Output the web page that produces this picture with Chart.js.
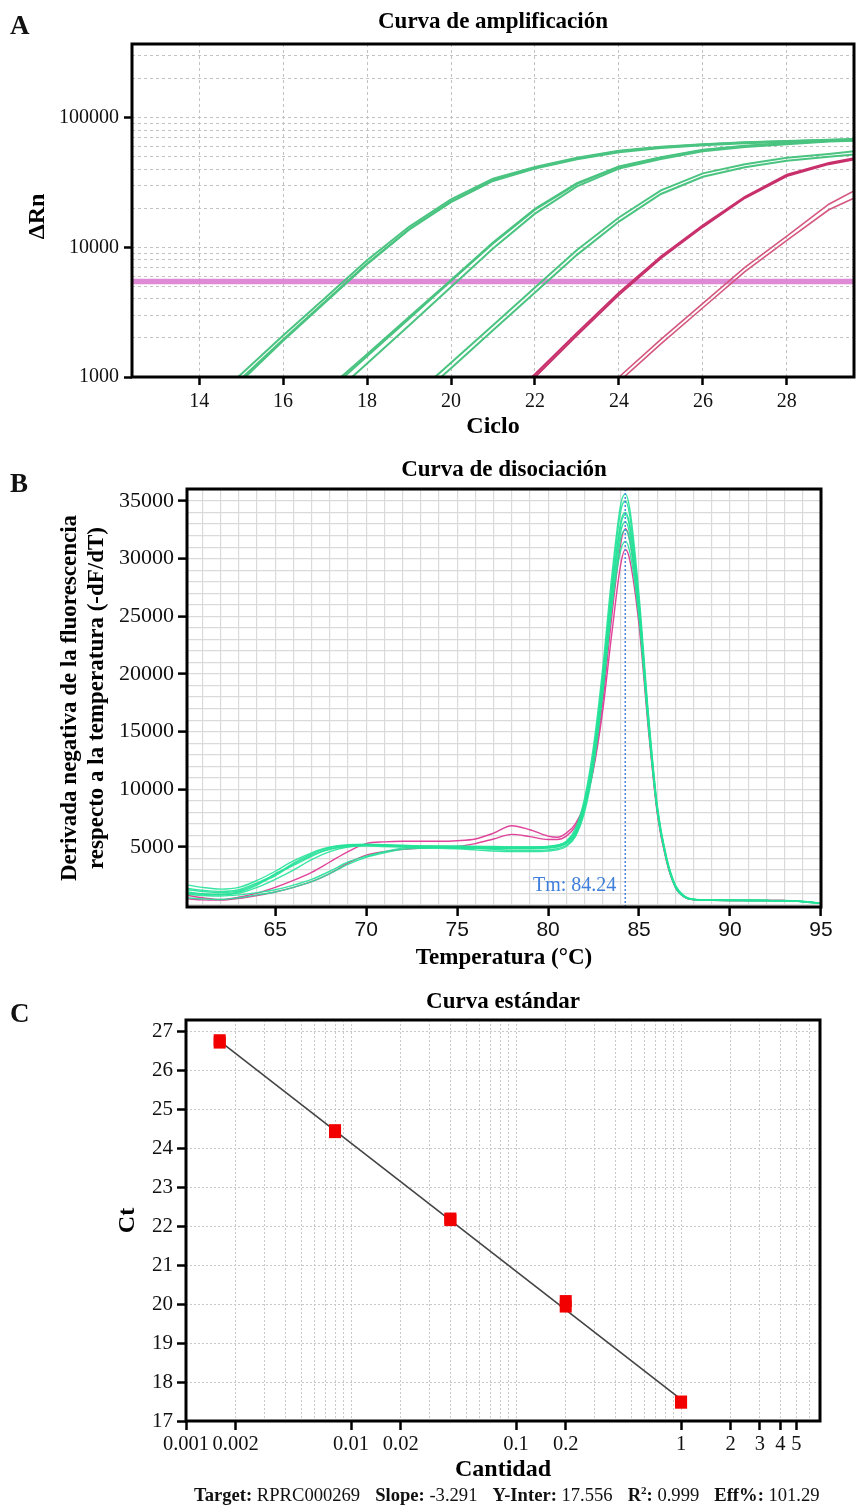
<!DOCTYPE html>
<html>
<head>
<meta charset="utf-8">
<script src="https://cdn.jsdelivr.net/npm/chart.js@4.4.1/dist/chart.umd.min.js"></script>
<style>
  body { margin: 0; background: #fff; }
  #page { position: relative; width: 856px; height: 1506px; font-family: 'Liberation Serif', serif; color: #111; }
  canvas { position: absolute; left: 0; }
  .tag { position: absolute; font-weight: bold; font-size: 27px; line-height: 27px; }
  #stats { position: absolute; left: 194px; top: 1485px; font-size: 18.6px; line-height: 20px; white-space: nowrap; }
  #stats .gap { display: inline-block; width: 15px; }
  #stats sup { font-size: 11px; line-height: 0; }
</style>
</head>
<body>
<div id="page">
  <canvas id="chartA" width="856" height="445" style="top:0"></canvas>
  <canvas id="chartB" width="856" height="535" style="top:450px"></canvas>
  <canvas id="chartC" width="856" height="505" style="top:985px"></canvas>
  <div class="tag" style="left:10px;top:12px">A</div>
  <div class="tag" style="left:10px;top:470px">B</div>
  <div class="tag" style="left:10px;top:1000px">C</div>
  <div id="stats"><b>Target:</b> RPRC000269<span class="gap"></span><b>Slope:</b> -3.291<span class="gap"></span><b>Y-Inter:</b> 17.556<span class="gap"></span><b>R<sup>2</sup>:</b> 0.999<span class="gap"></span><b>Eff%:</b> 101.29</div>
</div>
<script>
const serif = 'Liberation Serif';
const sans = 'Liberation Sans';
Chart.defaults.font.family = serif;
Chart.defaults.color = '#111';

// ---------- A: curva de amplificacion ----------
const cycles = [12, 13, 14, 15, 16, 17, 18, 19, 20, 21, 22, 23, 24, 25, 26, 27, 28, 29, 30];
const grp1a = [null, null, 540, 1050, 2090, 4070, 7940, 14400, 23400, 33900, 41700, 49000, 55600, 59600, 62400, 64600, 66100, 67600, 69200];
const grp1b = [null, null, 500, 970, 1950, 3820, 7500, 13800, 22600, 33000, 41000, 48500, 55000, 59200, 62000, 64300, 65900, 67400, 68900];
const grp1c = [null, null, 470, 930, 1900, 3760, 7420, 13700, 22300, 32500, 40500, 47800, 54000, 58300, 61200, 63500, 65000, 66600, 68000];
const grp2a = [null, null, null, null, 380, 741, 1445, 2818, 5495, 10700, 19500, 30900, 41700, 49000, 56200, 60300, 63100, 66100, 67600];
const grp2b = [null, null, null, null, null, 650, 1270, 2500, 4950, 9800, 18200, 29500, 40500, 48000, 55000, 59500, 62500, 65500, 67000];
const grp2c = [null, null, null, null, 400, 780, 1500, 2900, 5600, 10900, 19800, 31200, 42000, 49500, 56500, 60800, 63800, 66600, 68200];
const grp3a = [null, null, null, null, null, null, null, 661, 1290, 2510, 4900, 9550, 17000, 27500, 37200, 43700, 49000, 52500, 57000];
const grp3b = [null, null, null, null, null, null, null, 600, 1170, 2290, 4480, 8750, 15800, 25800, 35000, 41500, 46500, 50000, 53500];
const grp4a = [null, null, null, null, null, null, null, null, null, 537, 1050, 2190, 4470, 8510, 14800, 24500, 36300, 44700, 51300];
const grp4b = [null, null, null, null, null, null, null, null, null, 510, 1000, 2100, 4300, 8250, 14400, 24000, 35500, 43800, 50300];
const grp5a = [null, null, null, null, null, null, null, null, null, null, null, 520, 1000, 1950, 3700, 7000, 12200, 21500, 32000];
const grp5b = [null, null, null, null, null, null, null, null, null, null, null, 480, 920, 1800, 3420, 6500, 11300, 19500, 27500];
const thresholdA = 5445;
const xTicksA = [14, 16, 18, 20, 22, 24, 26, 28];
const yLabelsA = [1000, 10000, 100000];
const yGridA = [1000, 2000, 3000, 4000, 5000, 6000, 7000, 8000, 9000, 10000, 20000, 30000, 40000, 50000, 60000, 70000, 80000, 90000, 100000, 200000, 300000];

// ---------- B: curva de disociacion ----------
const temps = [60.2, 61, 62, 63, 64, 65, 66, 67, 68, 69, 70, 71, 72, 73, 74, 75, 76, 77, 78, 79, 80, 80.5, 81, 81.5, 82, 82.5, 83, 83.5, 84, 84.25, 84.5, 85, 85.5, 86, 86.5, 87, 87.5, 88, 89, 90, 91, 92, 93, 94, 95];
const melt1 = [1700, 1500, 1350, 1500, 2100, 2900, 3800, 4500, 5000, 5200, 5250, 5200, 5150, 5100, 5100, 5100, 5050, 5050, 5000, 5000, 5050, 5150, 5500, 6600, 9200, 13800, 20500, 28500, 34800, 35600, 34200, 26800, 16800, 8600, 4200, 1700, 750, 480, 420, 400, 390, 380, 360, 300, 150];
const melt2 = [1400, 1250, 1150, 1300, 1900, 2600, 3600, 4400, 4950, 5150, 5200, 5150, 5100, 5050, 5050, 5000, 5000, 4950, 4950, 4950, 5000, 5100, 5400, 6400, 8900, 13300, 19800, 27800, 34200, 35000, 33600, 26200, 16300, 8300, 4000, 1600, 700, 460, 400, 380, 370, 360, 340, 280, 130];
const melt3 = [1100, 950, 900, 1100, 1700, 2700, 3400, 4200, 4850, 5100, 5200, 5150, 5100, 5100, 5050, 5050, 5050, 5000, 5000, 5000, 5050, 5150, 5450, 6300, 8600, 12800, 19000, 26500, 32400, 33200, 32000, 25500, 16000, 8200, 4000, 1550, 680, 450, 400, 380, 370, 360, 340, 270, 120];
const melt4 = [900, 800, 750, 850, 1050, 1300, 1700, 2200, 2900, 3700, 4200, 4600, 4900, 5000, 5000, 4950, 4900, 4800, 4700, 4700, 4750, 4850, 5150, 6000, 8300, 12500, 19000, 27000, 33200, 34000, 32800, 26000, 16500, 8500, 4100, 1600, 700, 460, 400, 380, 370, 360, 340, 270, 120];
const melt5 = [600, 500, 450, 600, 850, 1100, 1500, 2000, 2700, 3500, 4100, 4500, 4800, 4900, 4900, 4850, 4750, 4650, 4600, 4600, 4650, 4750, 5050, 5900, 8000, 12000, 18200, 25800, 31800, 32500, 31400, 25200, 16000, 8300, 4000, 1550, 680, 450, 390, 370, 360, 350, 330, 260, 110];
const melt6 = [1300, 1150, 1050, 1200, 1800, 2500, 3500, 4300, 4800, 5050, 5100, 5050, 5000, 4950, 4950, 4900, 4900, 4850, 4850, 4850, 4900, 5000, 5300, 6100, 8400, 12400, 18500, 25800, 30800, 31500, 30500, 24800, 15700, 8100, 3900, 1500, 660, 440, 390, 370, 360, 350, 330, 260, 110];
const melt7 = [1000, 900, 850, 1000, 1500, 2200, 3000, 3900, 4600, 5000, 5100, 5100, 5050, 5000, 5000, 4950, 4950, 4900, 4900, 4900, 4950, 5050, 5350, 6200, 8700, 13000, 19500, 27200, 33000, 33800, 32600, 25900, 16200, 8300, 4000, 1550, 690, 450, 390, 370, 360, 350, 330, 260, 120];
const meltPink1 = [800, 600, 450, 650, 1000, 1500, 2100, 2800, 3700, 4600, 5300, 5450, 5500, 5500, 5500, 5550, 5700, 6200, 6850, 6500, 5950, 5850, 6200, 7000, 8700, 11800, 16800, 23500, 29600, 30800, 29800, 24200, 15400, 7900, 3800, 1500, 650, 430, 380, 370, 370, 370, 370, null, null];
const meltPink2 = [500, 420, 400, 550, 800, 1100, 1500, 2000, 2700, 3600, 4300, 4600, 4800, 4900, 5000, 5050, 5300, 5700, 6100, 5900, 5650, 5650, 5950, 6800, 8500, 12000, 17500, 25000, 31400, 32600, 31500, 25300, 15900, 8100, 3900, 1500, 660, 440, 390, 370, 370, 370, 370, null, null];
const tmValue = 84.24;
const xLabelsB = [65, 70, 75, 80, 85, 90, 95];
const xGridB = [61, 62, 63, 64, 65, 66, 67, 68, 69, 70, 71, 72, 73, 74, 75, 76, 77, 78, 79, 80, 81, 82, 83, 84, 85, 86, 87, 88, 89, 90, 91, 92, 93, 94, 95];
const yLabelsB = [5000, 10000, 15000, 20000, 25000, 30000, 35000];
const yGridB = [0, 1000, 2000, 3000, 4000, 5000, 6000, 7000, 8000, 9000, 10000, 11000, 12000, 13000, 14000, 15000, 16000, 17000, 18000, 19000, 20000, 21000, 22000, 23000, 24000, 25000, 26000, 27000, 28000, 29000, 30000, 31000, 32000, 33000, 34000, 35000, 36000];

// ---------- C: curva estandar ----------
const cantidad = [0.0016, 0.0016, 0.008, 0.008, 0.04, 0.04, 0.2, 0.2, 1, 1];
const ctValues = [26.72, 26.78, 24.42, 24.47, 22.16, 22.2, 20.08, 19.94, 17.47, 17.5];
const fitCantidad = [0.0016, 1];
const fitCt = [26.757, 17.556];
const xLabelsC = [0.001, 0.002, 0.01, 0.02, 0.1, 0.2, 1, 2, 3, 4, 5];
const xGridC = [0.001, 0.002, 0.003, 0.004, 0.005, 0.006, 0.007, 0.008, 0.009, 0.01, 0.02, 0.03, 0.04, 0.05, 0.06, 0.07, 0.08, 0.09, 0.1, 0.2, 0.3, 0.4, 0.5, 0.6, 0.7, 0.8, 0.9, 1, 2, 3, 4, 5, 6];
const yTicksC = [17, 18, 19, 20, 21, 22, 23, 24, 25, 26, 27];

// helpers
const near = (list, v) => list.find(l => Math.abs(l - v) <= Math.abs(l) * 1e-6);
const setTicks = list => scale => { scale.ticks = list.map(v => ({ value: v })); };
const markOnly = list => ctx => (ctx.tick && near(list, ctx.tick.value) !== undefined) ? '#000' : 'rgba(0,0,0,0)';
const labelOnly = list => v => { const l = near(list, v); return l === undefined ? '' : String(l); };

const framePlugin = {
  id: 'frame',
  afterDraw(chart) {
    const { ctx, chartArea: a } = chart;
    ctx.save();
    ctx.strokeStyle = '#000';
    ctx.lineWidth = 3;
    ctx.strokeRect(a.left, a.top, a.right - a.left, a.bottom - a.top);
    ctx.restore();
  }
};

const tmPlugin = {
  id: 'tm',
  afterDatasetsDraw(chart) {
    const { ctx, chartArea: a, scales: { x } } = chart;
    const px = x.getPixelForValue(tmValue);
    ctx.save();
    ctx.strokeStyle = '#4a84e0';
    ctx.lineWidth = 1.5;
    ctx.setLineDash([2, 2]);
    ctx.beginPath();
    ctx.moveTo(px, a.top);
    ctx.lineTo(px, a.bottom);
    ctx.stroke();
    ctx.setLineDash([]);
    ctx.fillStyle = '#3f7fdc';
    ctx.font = '20px "Liberation Serif"';
    ctx.textAlign = 'right';
    ctx.textBaseline = 'middle';
    ctx.fillText('Tm: ' + tmValue.toFixed(2), px - 9, a.bottom - 21);
    ctx.restore();
  }
};

const baseOpts = {
  responsive: false,
  animation: false,
  devicePixelRatio: 1,
  events: [],
};
const titleOpts = (text, top, bottom) => ({
  display: true, text: text, fullSize: false, color: '#000',
  font: { family: serif, size: 23, weight: 'bold' },
  padding: { top: top, bottom: bottom }
});

// ----- chart A -----
const greenA = 'rgb(74,196,128)';
const lineA = (vals, color, w) => ({
  data: cycles.map((c, i) => ({ x: c, y: vals[i] })),
  borderColor: color, borderWidth: w, pointRadius: 0, tension: 0, fill: false
});

new Chart(document.getElementById('chartA'), {
  type: 'line',
  data: {
    datasets: [
      lineA(grp1a, greenA, 2), lineA(grp1b, greenA, 2), lineA(grp1c, greenA, 2),
      lineA(grp2a, greenA, 2), lineA(grp2b, greenA, 2), lineA(grp2c, greenA, 2),
      lineA(grp3a, greenA, 2), lineA(grp3b, greenA, 2),
      lineA(grp4a, '#c8306c', 2), lineA(grp4b, '#c8306c', 2),
      lineA(grp5a, '#d4577f', 1.6), lineA(grp5b, '#d4577f', 1.6),
      {
        data: [{ x: cycles[0], y: thresholdA }, { x: cycles[cycles.length - 1], y: thresholdA }],
        borderColor: 'rgba(220,125,210,0.9)', borderWidth: 5.5, pointRadius: 0
      }
    ]
  },
  options: {
    ...baseOpts,
    layout: { padding: { left: 0, right: 2, top: 0, bottom: 0 } },
    plugins: { legend: { display: false }, tooltip: { enabled: false }, title: titleOpts('Curva de amplificación', 8, 8.4) },
    scales: {
      x: {
        type: 'linear', min: 12.4, max: 29.6,
        afterBuildTicks: setTicks(xTicksA),
        afterFit: s => { s.height = 68; },
        grid: { color: '#c2c2c2', lineWidth: 1, tickColor: '#000', tickLength: 8, tickWidth: 2.5, tickBorderDash: [] },
        border: { display: false, dash: [3, 3] },
        ticks: { autoSkip: false, maxRotation: 0, padding: 5, color: '#111', font: { size: 20 }, callback: v => String(v) },
        title: { display: true, text: 'Ciclo', color: '#000', font: { size: 24, weight: 'bold' }, padding: { top: 0, bottom: 4 } }
      },
      y: {
        type: 'logarithmic', min: 1000, max: 370000,
        afterBuildTicks: setTicks(yGridA),
        afterFit: s => { s.width = 132; },
        grid: { color: '#c2c2c2', lineWidth: 1, tickColor: markOnly(yLabelsA), tickLength: 8, tickWidth: 2.5, tickBorderDash: [] },
        border: { display: false, dash: [3, 3] },
        ticks: { autoSkip: false, padding: 5, color: '#111', font: { size: 20 }, callback: labelOnly(yLabelsA) },
        title: { display: true, text: 'ΔRn\u2002', color: '#000', font: { size: 24, weight: 'bold' }, padding: { top: 23, bottom: 0 } }
      }
    }
  },
  plugins: [framePlugin]
});

// ----- chart B -----
const greenB = 'rgba(36,226,152,0.9)';
const pinkB = '#e0449a';
const lineB = (vals, color) => ({
  data: temps.map((t, i) => ({ x: t, y: vals[i] })),
  borderColor: color, borderWidth: 1.4, pointRadius: 0, cubicInterpolationMode: 'monotone', fill: false
});

new Chart(document.getElementById('chartB'), {
  type: 'line',
  data: {
    datasets: [
      lineB(melt1, greenB), lineB(melt2, greenB), lineB(melt3, greenB), lineB(melt4, greenB),
      lineB(melt5, greenB), lineB(melt6, greenB), lineB(melt7, greenB),
      lineB(meltPink1, pinkB), lineB(meltPink2, pinkB)
    ]
  },
  options: {
    ...baseOpts,
    layout: { padding: { left: 0, right: 35, top: 0, bottom: 0 } },
    plugins: { legend: { display: false }, tooltip: { enabled: false }, title: titleOpts('Curva de disociación', 6.2, 5.2) },
    scales: {
      x: {
        type: 'linear', min: 60.15, max: 95,
        afterBuildTicks: setTicks(xGridB),
        afterFit: s => { s.height = 78; },
        grid: { color: '#dadada', lineWidth: 1.2, tickColor: markOnly(xLabelsB), tickLength: 9, tickWidth: 2.5, tickBorderDash: [] },
        border: { display: false },
        ticks: { autoSkip: false, maxRotation: 0, padding: 1.5, color: '#111', font: { family: sans, size: 21 }, callback: labelOnly(xLabelsB) },
        title: { display: true, text: 'Temperatura (°C)', color: '#000', font: { size: 23, weight: 'bold' }, padding: { top: 0, bottom: 13 } }
      },
      y: {
        type: 'linear', min: -200, max: 36040,
        afterBuildTicks: setTicks(yGridB),
        afterFit: s => { s.width = 187; },
        grid: { color: '#dadada', lineWidth: 1.2, tickColor: markOnly(yLabelsB), tickLength: 9, tickWidth: 2.5, tickBorderDash: [] },
        border: { display: false },
        ticks: { autoSkip: false, padding: 4, color: '#111', font: { size: 22 }, callback: labelOnly(yLabelsB) },
        title: {
          display: true, color: '#000',
          text: ['Derivada negativa de la fluorescencia', 'respecto a la temperatura (-dF/dT)'],
          font: { size: 23, weight: 'bold', lineHeight: 1.174 }, padding: { top: 56.5, bottom: 0 }
        }
      }
    }
  },
  plugins: [tmPlugin, framePlugin]
});

// ----- chart C -----
new Chart(document.getElementById('chartC'), {
  type: 'line',
  data: {
    datasets: [
      {
        data: cantidad.map((q, i) => ({ x: q, y: ctValues[i] })),
        showLine: false, pointStyle: 'rect', pointRadius: 8.5,
        pointBackgroundColor: '#f20000', pointBorderColor: '#f20000', pointBorderWidth: 0
      },
      {
        data: fitCantidad.map((q, i) => ({ x: q, y: fitCt[i] })),
        borderColor: '#444', borderWidth: 1.6, pointRadius: 0, tension: 0
      }
    ]
  },
  options: {
    ...baseOpts,
    layout: { padding: { left: 0, right: 36, top: 0, bottom: 0 } },
    plugins: { legend: { display: false }, tooltip: { enabled: false }, title: titleOpts('Curva estándar', 3.2, 4.2) },
    scales: {
      x: {
        type: 'logarithmic', min: 0.001, max: 6.95,
        afterBuildTicks: setTicks(xGridC),
        afterFit: s => { s.height = 69; },
        grid: { color: '#c8c8c8', lineWidth: 1, tickColor: markOnly(xLabelsC), tickLength: 9, tickWidth: 2.5, tickBorderDash: [] },
        border: { display: false, dash: [2, 2] },
        ticks: { autoSkip: false, maxRotation: 0, padding: 2.5, color: '#111', font: { size: 20.5 }, callback: labelOnly(xLabelsC) },
        title: { display: true, text: 'Cantidad', color: '#000', font: { size: 24, weight: 'bold' }, padding: { top: 0, bottom: 6 } }
      },
      y: {
        type: 'linear', min: 17, max: 27.3,
        afterBuildTicks: setTicks(yTicksC),
        afterFit: s => { s.width = 186; },
        grid: { color: '#c8c8c8', lineWidth: 1, tickColor: '#000', tickLength: 9, tickWidth: 2.5, tickBorderDash: [] },
        border: { display: false, dash: [2, 2] },
        ticks: { autoSkip: false, padding: 4, color: '#111', font: { size: 21 }, callback: v => String(v) },
        title: { display: true, text: 'Ct', color: '#000', font: { size: 24, weight: 'bold' }, padding: { top: 113, bottom: 0 } }
      }
    }
  },
  plugins: [framePlugin]
});
</script>
</body>
</html>
